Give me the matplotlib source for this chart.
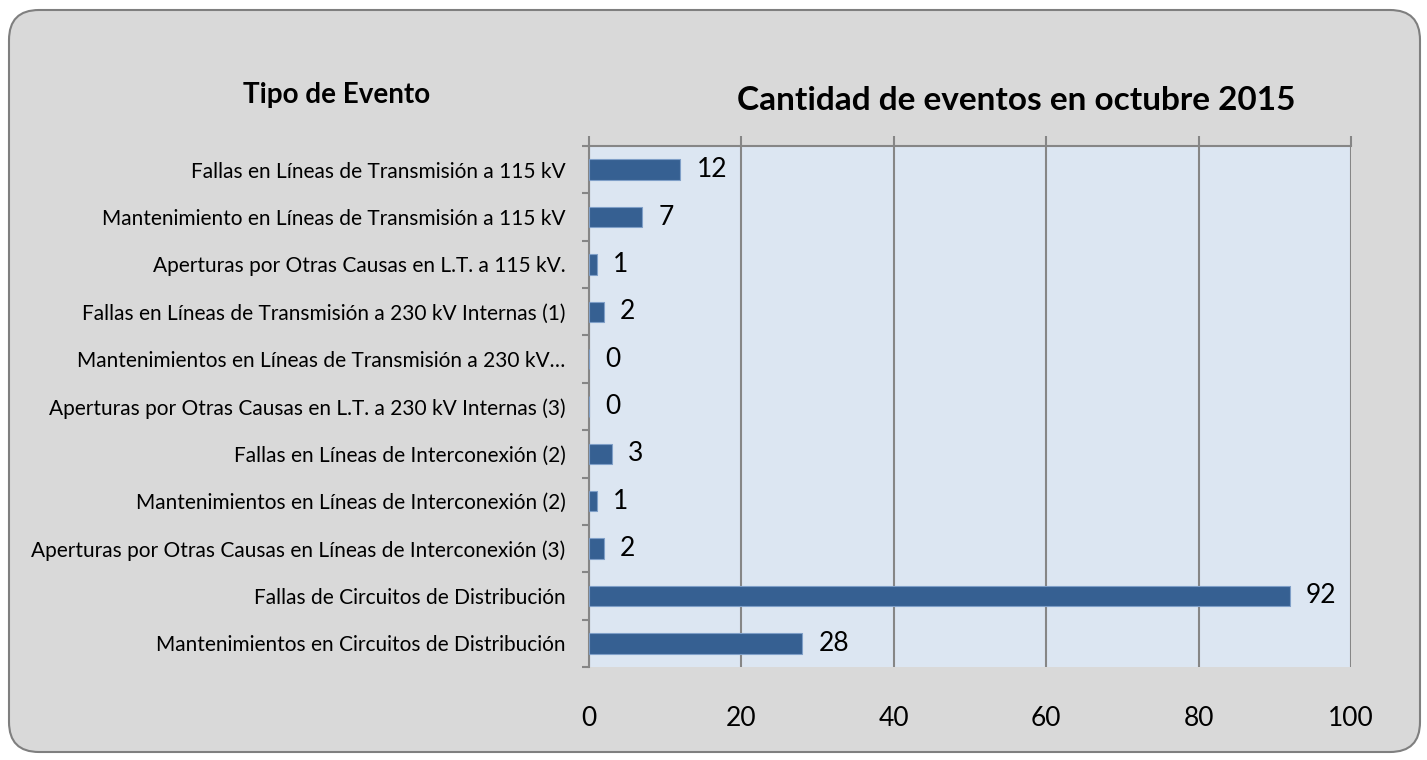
import numpy as np
import matplotlib.pyplot as plt
from matplotlib.patches import FancyBboxPatch

plt.rcParams['font.family'] = ['Lato', 'DejaVu Sans']

categories = [
    "Fallas en Líneas de Transmisión a 115 kV",
    "Mantenimiento en Líneas de Transmisión a 115 kV",
    "Aperturas por Otras Causas en L.T. a 115 kV.",
    "Fallas en Líneas de Transmisión a 230 kV Internas (1)",
    "Mantenimientos en Líneas de Transmisión a 230 kV…",
    "Aperturas por Otras Causas en L.T. a 230 kV Internas (3)",
    "Fallas en Líneas de Interconexión (2)",
    "Mantenimientos en Líneas de Interconexión (2)",
    "Aperturas por Otras Causas en Líneas de Interconexión (3)",
    "Fallas de Circuitos de Distribución",
    "Mantenimientos en Circuitos de Distribución",
]
values = [12, 7, 1, 2, 0, 0, 3, 1, 2, 92, 28]
xticks = [0, 20, 40, 60, 80, 100]

fig = plt.figure(figsize=(14.27, 7.6), dpi=100)
fig.patch.set_facecolor("white")

# background axes in pixel units for the rounded chart frame
bg = fig.add_axes([0, 0, 1, 1], zorder=-1)
bg.set_xlim(0, 1427)
bg.set_ylim(760, 0)
bg.axis("off")
bg.add_patch(FancyBboxPatch((9, 10), 1411, 742, boxstyle="round,pad=0,rounding_size=30",
                            facecolor="#d9d9d9", edgecolor="#7f7f7f", linewidth=1.5))

ax = fig.add_axes([589 / 1427, 1 - 667 / 760, 762 / 1427, 521 / 760])
ax.set_facecolor("#dce6f2")

y = np.arange(len(categories))
ax.barh(y, values, height=0.43, color="#366092", edgecolor="#7f9fc8", linewidth=0.8, zorder=3)
for yi, v in zip(y, values):
    ax.text(v + 2.1, yi, str(v), va="center", ha="left", fontsize=19, zorder=4)

ax.set_xlim(0, 100)
ax.set_ylim(len(categories) - 0.5, -0.5)
ax.set_xticks(xticks)
ax.set_xticklabels([str(t) for t in xticks], fontsize=19)
ax.xaxis.grid(True, color="#868686", linewidth=1.5, zorder=1)
ax.tick_params(axis="x", bottom=False, top=True, labelbottom=True, labeltop=False,
               direction="out", length=7, width=1.5, color="#868686", pad=21)

ax.set_yticks(y)
ax.set_yticklabels(categories, fontsize=15)
ax.set_yticks(np.arange(len(categories) + 1) - 0.5, minor=True)
ax.tick_params(axis="y", which="major", length=0, pad=17)
ax.tick_params(axis="y", which="minor", length=5, width=1.5, color="#868686")

for s in ["bottom", "right"]:
    ax.spines[s].set_visible(False)
for s in ["top", "left"]:
    ax.spines[s].set_color("#868686")
    ax.spines[s].set_linewidth(1.5)

fig.text(1016 / 1427, 1 - 100 / 760, "Cantidad de eventos en octubre 2015",
         ha="center", va="center", fontsize=24, fontweight="bold")
fig.text(337 / 1427, 1 - 95 / 760, "Tipo de Evento",
         ha="center", va="center", fontsize=20, fontweight="bold")

fig.savefig("out.png", dpi=100)
